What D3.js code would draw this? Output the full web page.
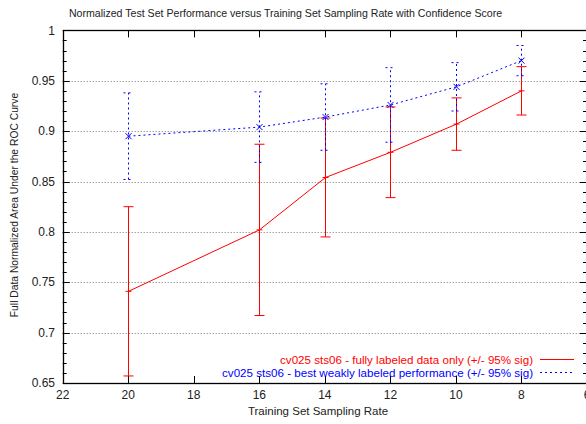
<!DOCTYPE html>
<html>
<head>
<meta charset="utf-8">
<script src="https://cdn.jsdelivr.net/npm/d3@7"></script>
<style>
  html, body { margin: 0; padding: 0; background: #fff; }
  svg { display: block; font-family: "Liberation Sans", Arial, Helvetica, sans-serif; }
</style>
</head>
<body>
<svg id="chart" width="586" height="424"></svg>
<script>
// Training set sampling rates (x) and the two measured series with 95% half-widths
const rates = [20, 16, 14, 12, 10, 8];
const fullMean = [0.741, 0.802, 0.854, 0.879, 0.907, 0.940];
const fullErr  = [0.084, 0.085, 0.059, 0.045, 0.026, 0.024];
const weakMean = [0.895, 0.904, 0.914, 0.926, 0.944, 0.970];
const weakErr  = [0.043, 0.035, 0.033, 0.037, 0.024, 0.015];

const xTicks = [22, 20, 18, 16, 14, 12, 10, 8, 6];
const yTicks = [0.65, 0.7, 0.75, 0.8, 0.85, 0.9, 0.95, 1];
const yGrid  = [0.7, 0.75, 0.8, 0.85, 0.9, 0.95];

const titleText = "Normalized Test Set Performance versus Training Set Sampling Rate with Confidence Score";
const xLabel = "Training Set Sampling Rate";
const yLabel = "Full Data Normalized Area Under the ROC Curve";
const fullName = "cv025 sts06 - fully labeled data only (+/- 95% sig)";
const weakName = "cv025 sts06 - best weakly labeled performance (+/- 95% sig)";

const svg = d3.select("#chart");
const L = 62.7, R = 587, T = 30.4, B = 383;

const x = d3.scaleLinear().domain([22, 6]).range([L, R]);
const y = d3.scaleLinear().domain([0.65, 1]).range([B, T]);

const RED = "#ff0000", BLUE = "#0000ff";

// horizontal grid
svg.append("g").selectAll("line").data(yGrid).join("line")
  .attr("x1", L).attr("x2", R)
  .attr("y1", d => Math.round(y(d)) + 0.5).attr("y2", d => Math.round(y(d)) + 0.5)
  .attr("stroke", "#777").attr("stroke-width", 1).attr("stroke-dasharray", "1,2");

// axes with inward ticks
const tickG = svg.append("g").attr("stroke", "#000").attr("stroke-width", 1);
const minor = d3.range(0.66, 1.0, 0.01).filter(v => Math.abs(v * 20 - Math.round(v * 20)) > 1e-6);
yTicks.forEach(v => {
  const yy = Math.round(y(v)) + 0.5;
  tickG.append("line").attr("x1", L).attr("x2", L + 7).attr("y1", yy).attr("y2", yy);
  tickG.append("line").attr("x1", R).attr("x2", R - 7).attr("y1", yy).attr("y2", yy);
});
minor.forEach(v => {
  const yy = Math.round(y(v)) + 0.5;
  tickG.append("line").attr("x1", L).attr("x2", L + 4).attr("y1", yy).attr("y2", yy);
  tickG.append("line").attr("x1", R).attr("x2", R - 4).attr("y1", yy).attr("y2", yy);
});
xTicks.forEach(v => {
  const xx = Math.round(x(v)) + 0.5;
  tickG.append("line").attr("x1", xx).attr("x2", xx).attr("y1", B).attr("y2", B - 7);
  tickG.append("line").attr("x1", xx).attr("x2", xx).attr("y1", T).attr("y2", T + 7);
});

// frame
svg.append("rect")
  .attr("x", Math.round(L) + 0.5).attr("y", Math.round(T) + 0.5)
  .attr("width", R - Math.round(L)).attr("height", Math.round(B) - Math.round(T))
  .attr("fill", "none").attr("stroke", "#000").attr("stroke-width", 1.3);

// tick labels
svg.append("g").selectAll("text").data(yTicks).join("text")
  .attr("x", 55).attr("y", d => y(d)).attr("dy", "0.35em")
  .attr("text-anchor", "end").attr("font-size", 12).attr("fill", "#222")
  .text(d => d3.format("")(d));
svg.append("g").selectAll("text").data(xTicks).join("text")
  .attr("x", d => x(d)).attr("y", 399)
  .attr("text-anchor", "middle").attr("font-size", 12).attr("fill", "#222")
  .text(d => d);

// titles
svg.append("text").attr("x", 285.5).attr("y", 17).attr("text-anchor", "middle")
  .attr("font-size", 10.6).attr("fill", "#222").text(titleText);
svg.append("text").attr("x", 318).attr("y", 415).attr("text-anchor", "middle")
  .attr("font-size", 11.5).attr("fill", "#222").text(xLabel);
svg.append("text").attr("transform", `translate(18,205) rotate(-90)`)
  .attr("text-anchor", "middle").attr("font-size", 10.3).attr("fill", "#222").text(yLabel);

// series drawing
function drawSeries(mean, err, color, dash, marker) {
  const pts = rates.map((r, i) => ({ r, m: mean[i], e: err[i] }));
  const g = svg.append("g").attr("stroke", color).attr("fill", "none").attr("stroke-width", 1);
  if (dash) g.attr("stroke-dasharray", dash);
  // error bars
  pts.forEach(p => {
    const xx = Math.round(x(p.r)) + 0.5;
    g.append("line").attr("x1", xx).attr("x2", xx).attr("y1", y(p.m - p.e)).attr("y2", y(p.m + p.e));
    [p.m - p.e, p.m + p.e].forEach(v => {
      g.append("line").attr("x1", xx - 5).attr("x2", xx + 5).attr("y1", y(v)).attr("y2", y(v));
    });
  });
  // connecting line
  g.append("path").attr("d", d3.line().x(p => Math.round(x(p.r)) + 0.5).y(p => y(p.m))(pts));
  // point markers
  const mg = svg.append("g").attr("stroke", color).attr("stroke-width", 1);
  pts.forEach(p => {
    const xx = Math.round(x(p.r)) + 0.5, yy = y(p.m);
    if (marker === "plus") {
      mg.append("line").attr("x1", xx - 3).attr("x2", xx + 3).attr("y1", yy).attr("y2", yy);
      mg.append("line").attr("x1", xx).attr("x2", xx).attr("y1", yy - 3).attr("y2", yy + 3);
    } else {
      mg.append("line").attr("x1", xx - 3).attr("x2", xx + 3).attr("y1", yy - 3).attr("y2", yy + 3);
      mg.append("line").attr("x1", xx - 3).attr("x2", xx + 3).attr("y1", yy + 3).attr("y2", yy - 3);
    }
  });
}
drawSeries(fullMean, fullErr, RED, null, "plus");
drawSeries(weakMean, weakErr, BLUE, "2,3", "cross");

// key
const keyRows = [
  { name: fullName, color: RED, dash: null, yy: 359.5 },
  { name: weakName, color: BLUE, dash: "2,3", yy: 372.5 }
];
keyRows.forEach(k => {
  svg.append("text").attr("x", 533).attr("y", k.yy).attr("dy", "0.35em")
    .attr("text-anchor", "end").attr("font-size", 11.6).attr("fill", k.color).text(k.name);
  const ln = svg.append("line").attr("x1", 540).attr("x2", 574).attr("y1", k.yy).attr("y2", k.yy)
    .attr("stroke", k.color).attr("stroke-width", 1);
  if (k.dash) ln.attr("stroke-dasharray", k.dash);
});
</script>
</body>
</html>
